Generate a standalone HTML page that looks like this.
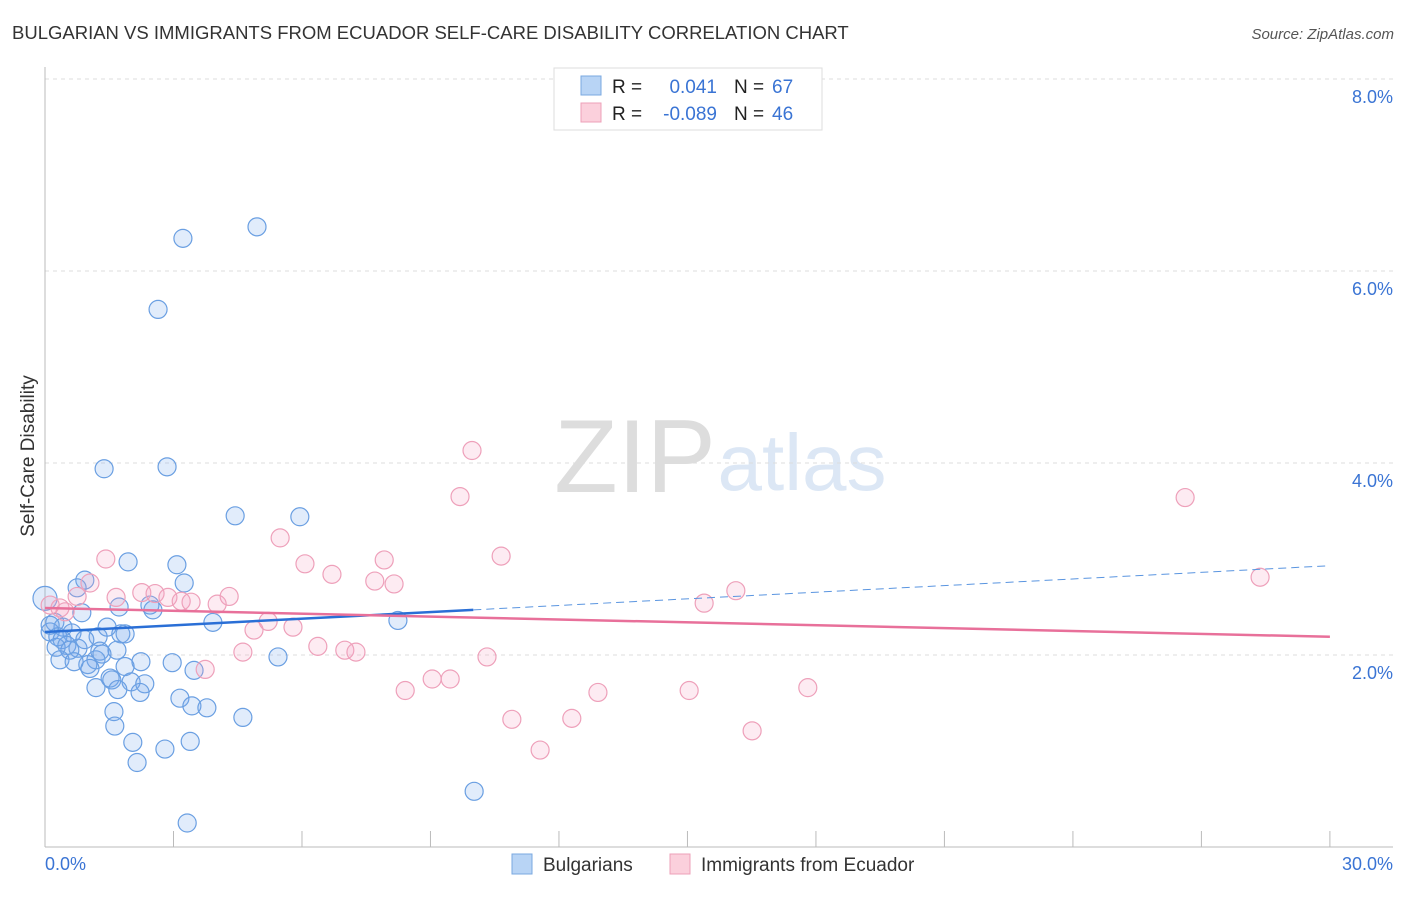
<!DOCTYPE html>
<html><head><meta charset="utf-8"><style>
body{margin:0;background:#fff;font-family:"Liberation Sans",sans-serif}
svg text{font-family:"Liberation Sans",sans-serif}
</style></head><body>
<svg width="1406" height="892" viewBox="0 0 1406 892">
<text x="12" y="39" font-size="18.5" fill="#333">BULGARIAN VS IMMIGRANTS FROM ECUADOR SELF-CARE DISABILITY CORRELATION CHART</text>
<text x="1394" y="39" font-size="15" fill="#555" font-style="italic" text-anchor="end">Source: ZipAtlas.com</text>
<g>
<text x="635" y="492" font-size="104" fill="#ddd" font-family="Liberation Serif" text-anchor="middle">ZIP</text>
<text x="802" y="490" font-size="80" fill="#dce7f5" text-anchor="middle">atlas</text>
</g>
<g id="grid"></g>
<g id="axes"></g>
<g id="marks"></g>
<text x="34" y="456" font-size="19" fill="#333" transform="rotate(-90 34 456)" text-anchor="middle">Self-Care Disability</text>
<g>
<rect x="554" y="68" width="268" height="62" fill="#fff" stroke="#ddd"/>
<rect x="581" y="76" width="20" height="19" fill="#b8d4f5" stroke="#7aa8e0"/>
<rect x="581" y="103" width="20" height="19" fill="#fbd0dc" stroke="#eea0b8"/>
<text x="612" y="93" font-size="19" fill="#222">R =</text>
<text x="717" y="93" font-size="19" fill="#3a74d4" text-anchor="end">0.041</text>
<text x="734" y="93" font-size="19" fill="#222">N =</text>
<text x="772" y="93" font-size="19" fill="#3a74d4">67</text>
<text x="612" y="120" font-size="19" fill="#222">R =</text>
<text x="717" y="120" font-size="19" fill="#3a74d4" text-anchor="end">-0.089</text>
<text x="734" y="120" font-size="19" fill="#222">N =</text>
<text x="772" y="120" font-size="19" fill="#3a74d4">46</text>
</g>
<g>
<rect x="512" y="854" width="20" height="20" fill="#b8d4f5" stroke="#7aa8e0"/>
<text x="543" y="871" font-size="19" fill="#333">Bulgarians</text>
<rect x="670" y="854" width="20" height="20" fill="#fbd0dc" stroke="#eea0b8"/>
<text x="701" y="871" font-size="19" fill="#333">Immigrants from Ecuador</text>
</g>
</svg>
<script>
const blueX=[4.95,3.22,2.64,1.38,2.85,4.44,5.95,1.94,3.08,3.25,0.93,0.75,0.86,2.45,2.52,1.73,3.92,8.24,0.23,0.42,0.63,0.12,0.30,0.40,0.51,0.26,0.77,1.24,1.45,1.77,1.87,1.68,1.28,1.19,1.00,1.05,2.24,1.87,2.97,3.48,5.44,1.52,1.56,2.01,2.33,1.19,3.15,3.43,3.78,4.62,1.61,1.63,2.05,2.80,3.39,2.15,10.02,3.32,0.0,0.12,0.58,0.93,1.33,0.35,0.68,2.22,1.70];
const blueY=[6.46,6.34,5.60,3.94,3.96,3.45,3.44,2.97,2.94,2.75,2.78,2.70,2.44,2.52,2.47,2.50,2.34,2.36,2.34,2.29,2.23,2.24,2.19,2.16,2.10,2.08,2.07,2.19,2.29,2.22,2.22,2.05,2.04,1.95,1.90,1.86,1.93,1.88,1.92,1.84,1.98,1.76,1.74,1.72,1.70,1.66,1.55,1.47,1.45,1.35,1.41,1.26,1.09,1.02,1.10,0.88,0.58,0.25,2.59,2.31,2.05,2.16,2.01,1.95,1.93,1.61,1.64];
const pinkX=[9.97,9.69,26.62,5.49,10.65,1.42,7.92,6.07,6.70,7.70,8.15,28.37,1.05,0.75,1.66,2.26,2.57,2.87,3.18,3.41,4.30,4.02,16.13,15.39,0.35,0.12,0.47,4.88,5.21,5.79,6.37,4.62,7.00,7.26,10.32,3.74,8.41,9.04,9.46,12.91,15.04,17.81,10.90,12.30,16.51,11.56];
const pinkY=[4.13,3.65,3.64,3.22,3.03,3.00,2.99,2.95,2.84,2.77,2.74,2.81,2.75,2.61,2.60,2.65,2.64,2.60,2.56,2.55,2.61,2.53,2.67,2.54,2.49,2.52,2.45,2.26,2.35,2.29,2.09,2.03,2.05,2.03,1.98,1.85,1.63,1.75,1.75,1.61,1.63,1.66,1.33,1.34,1.21,1.01];
const blueTrend=[2.24,2.93];
const pinkTrend=[2.49,2.19];
const yTicks=[2,4,6,8];
const xTicks=[3,6,9,12,15,18,21,24,27,30];
const NS='http://www.w3.org/2000/svg';
const sx=v=>45+v*42.83, sy=v=>847-v*96;
function mk(p,t,a){const e=document.createElementNS(NS,t);for(const k in a)e.setAttribute(k,a[k]);p.appendChild(e);return e;}
const grid=document.getElementById('grid'),axes=document.getElementById('axes'),marks=document.getElementById('marks');
yTicks.forEach(v=>{
 const l=mk(grid,'line',{x1:45,x2:1393,y1:sy(v),y2:sy(v),stroke:'#ddd','stroke-dasharray':'4,4'});
 
 
 const t=mk(axes,'text',{x:1393,y:sy(v)+24,'font-size':18,fill:'#3a74d4','text-anchor':'end'});t.textContent=v.toFixed(1)+'%';
 
 
});
mk(axes,'line',{x1:45,x2:45,y1:67,y2:847,stroke:'#bbb'});
mk(axes,'line',{x1:45,x2:1393,y1:847,y2:847,stroke:'#bbb'});
xTicks.forEach(v=>{
 const l=mk(axes,'line',{x1:sx(v),x2:sx(v),y1:831,y2:847,stroke:'#bbb'});
 
 
});
const x0=mk(axes,'text',{x:45,y:870,'font-size':18,fill:'#3a74d4'});x0.textContent='0.0%';


const x1=mk(axes,'text',{x:1393,y:870,'font-size':18,fill:'#3a74d4','text-anchor':'end'});x1.textContent='30.0%';


blueX.forEach((x,i)=>{
 const c=mk(marks,'circle',{cx:sx(x),cy:sy(blueY[i]),r:x===0?12:9,fill:'rgba(120,170,235,0.22)',stroke:'#6a9fe2','stroke-width':1.2});
 
 
});
pinkX.forEach((x,i)=>{
 const c=mk(marks,'circle',{cx:sx(x),cy:sy(pinkY[i]),r:9,fill:'rgba(245,165,195,0.22)',stroke:'#eea0ba','stroke-width':1.2});
 
 
});
const bAt=x=>blueTrend[0]+(blueTrend[1]-blueTrend[0])*x/30;
const pAt=x=>pinkTrend[0]+(pinkTrend[1]-pinkTrend[0])*x/30;
const bl=mk(marks,'line',{x1:sx(0),y1:sy(bAt(0)),x2:sx(10),y2:sy(bAt(10)),stroke:'#2a6fd6','stroke-width':2.5});


const bd=mk(marks,'line',{x1:sx(10),y1:sy(bAt(10)),x2:sx(30),y2:sy(bAt(30)),stroke:'#5a95e0','stroke-width':1,'stroke-dasharray':'8,5'});


const pl=mk(marks,'line',{x1:sx(0),y1:sy(pAt(0)),x2:sx(30),y2:sy(pAt(30)),stroke:'#e8709a','stroke-width':2.5});


</script>
</body></html>
